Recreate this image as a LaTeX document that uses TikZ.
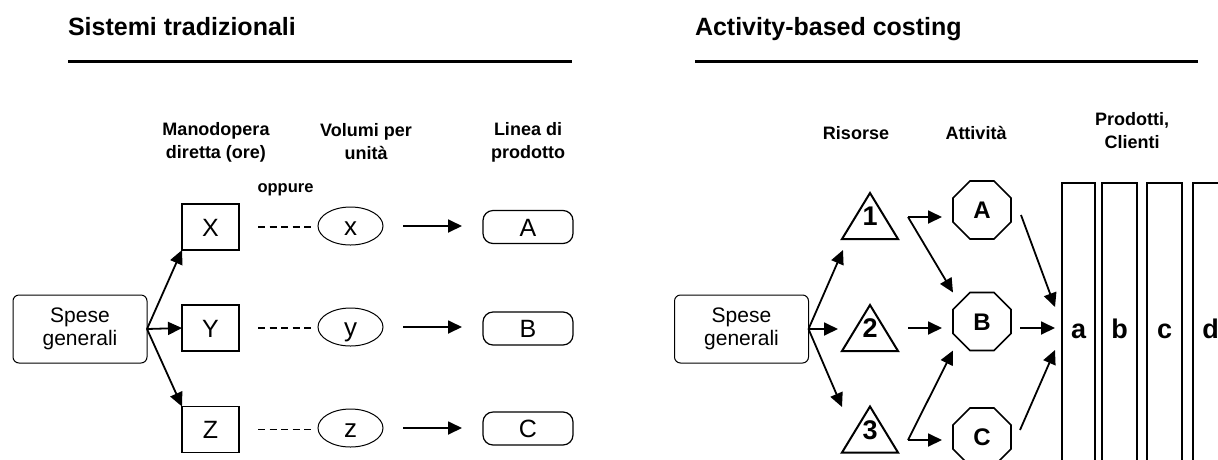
\documentclass[tikz,border=0pt]{standalone}
\usepackage{fontspec}
\setmainfont{Liberation Sans}
\usetikzlibrary{arrows.meta,shapes.geometric,calc}
\begin{document}
\begin{tikzpicture}[x=1pt,y=-1pt,
  every node/.style={inner sep=0pt, outer sep=0pt},
  title/.style={font=\fontsize{25}{28}\selectfont\bfseries, anchor=base west},
  head/.style={font=\fontsize{18}{23}\selectfont\bfseries, align=center},
  letter/.style={text height=#1, text depth=0pt},
  spese/.style={draw, line width=1pt, rounded corners=6pt, minimum width=134pt, minimum height=68pt, align=center, font=\fontsize{21}{23}\selectfont},
  sqbox/.style={draw, letter=18pt, line width=1.5pt, minimum width=57pt, minimum height=46pt, font=\fontsize{25}{25}\selectfont},
  ell/.style={draw, letter=18.7pt, ellipse, line width=1pt, minimum width=65pt, minimum height=38pt, font=\fontsize{26}{26}\selectfont},
  pill/.style={draw, letter=18pt, line width=1.2pt, rounded corners=10pt, minimum width=90pt, minimum height=33pt, font=\fontsize{25}{25}\selectfont},
  tri/.style={letter=19.4pt, minimum width=56pt, minimum height=46pt, font=\fontsize{27}{27}\selectfont\bfseries},
  triline/.style={line width=2pt, line join=miter},
  oct/.style={draw, letter=17.3pt, regular polygon, regular polygon sides=8, line width=1.6pt, minimum size=62.8pt, font=\fontsize{24}{24}\selectfont\bfseries},
  bar/.style={draw, letter=19.4pt, line width=2pt, minimum width=35pt, minimum height=292pt, font=\fontsize{27}{27}\selectfont\bfseries},
  arr/.style={line width=1.8pt, -{Triangle[length=14pt,width=13pt]}},
  dashline/.style={line width=1.5pt, dash pattern=on 7pt off 4.5pt},
  rule/.style={line width=3pt}
]
\useasboundingbox (0,0) rectangle (1218,459);
\clip (0,0) rectangle (1218,459);

% ---------- left: Sistemi tradizionali ----------
\node[title] (t1) at (68,35) {Sistemi tradizionali};
\coordinate (l1a) at (68,61);
\coordinate (l1b) at (572,61);
\draw[rule] (l1a) -- (l1b);

\node[head] (h1) at (216,142) {Manodopera\\diretta (ore)};
\node[head] (h2) at (366,142) {Volumi per\\unità};
\node[head] (h3) at (528,142) {Linea di\\prodotto};
\node[font=\fontsize{16.5}{16.5}\selectfont\bfseries] (opp) at (285.5,190) {oppure};

\node[spese] (SL) at (80,329) {Spese\\generali};
\node[sqbox] (X) at (210.5,227) {X};
\node[sqbox] (Y) at (210.5,328) {Y};
\node[sqbox] (Z) at (210.5,429.5) {Z};
\node[ell] (x) at (350.5,226) {x};
\node[ell] (y) at (350.5,327) {y};
\node[ell] (z) at (350.5,428) {z};
\node[pill] (A) at (528,227) {A};
\node[pill] (B) at (528,328.5) {B};
\node[pill] (C) at (528,428.5) {C};

\draw[arr] (SL.east) -- (X.south west);
\draw[arr] (SL.east) -- (Y.west);
\draw[arr] (SL.east) -- (Z.north west);
\draw[dashline, shorten <=19pt, shorten >=3pt] (X.east) -- (X.east -| x.west);
\draw[dashline, shorten <=19pt, shorten >=3pt] (Y.east) -- (Y.east -| y.west);
\draw[dashline, shorten <=19pt, shorten >=3pt] (Z.east) -- (Z.east -| z.west);
\draw[arr, shorten <=20pt, shorten >=21pt] (x.east) -- (x.east -| A.west);
\draw[arr, shorten <=20pt, shorten >=21pt] (y.east) -- (y.east -| B.west);
\draw[arr, shorten <=20pt, shorten >=21pt] (z.east) -- (z.east -| C.west);

% ---------- right: Activity-based costing ----------
\node[title] (t2) at (695,35) {Activity-based costing};
\coordinate (l2a) at (695,61);
\coordinate (l2b) at (1198,61);
\draw[rule] (l2a) -- (l2b);

\node[head] (h4) at (856,133) {Risorse};
\node[head] (h5) at (976,133) {Attività};
\node[head] (h6) at (1132,131) {Prodotti,\\Clienti};

\node[spese] (SR) at (741.5,329) {Spese\\generali};
\node[tri] (T1) at (870,216) {1};
\node[tri] (T2) at (870,328) {2};
\node[tri] (T3) at (870,429.5) {3};
\foreach \t in {T1,T2,T3}
  \draw[triline] (\t.south west) -- (\t.north) -- (\t.south east) -- cycle;

\node[oct] (OA) at (982,210) {A};
\node[oct] (OB) at (982,321.5) {B};
\node[oct] (OC) at (982,437) {C};

\node[bar, minimum width=33pt] (Pa) at (1078.5,329) {a};
\node[bar] (Pb) at (1119.5,329) {b};
\node[bar] (Pc) at (1164.5,329) {c};
\node[bar] (Pd) at (1210.5,329) {d};

\coordinate (e1) at (843,250);
\coordinate (e2) at (838,329);
\coordinate (e3) at (842,407);
\draw[arr] (SR.east) -- (e1);
\draw[arr] (SR.east) -- (e2);
\draw[arr] (SR.east) -- (e3);

\coordinate (v1) at (908,217);
\coordinate (v2) at (908,328);
\coordinate (v3) at (908,440);
\coordinate (a1) at (942,217);
\coordinate (a2) at (942,328);
\coordinate (a3) at (942,440);
\draw[arr] (v1) -- (a1);
\draw[arr] (v1) -- (OB.west |- OB.north);
\draw[arr] (v2) -- (a2);
\draw[arr] (v3) -- (a3);
\draw[arr] (v3) -- (OB.west |- OB.south);

\coordinate (o1) at (1021,215);
\coordinate (o2) at (1020,328);
\coordinate (o3) at (1020,430);
\coordinate (b1) at (1055,307);
\coordinate (b2) at (1055,328);
\coordinate (b3) at (1055,350);
\draw[arr] (o1) -- (b1);
\draw[arr] (o2) -- (b2);
\draw[arr] (o3) -- (b3);
\end{tikzpicture}
\end{document}
